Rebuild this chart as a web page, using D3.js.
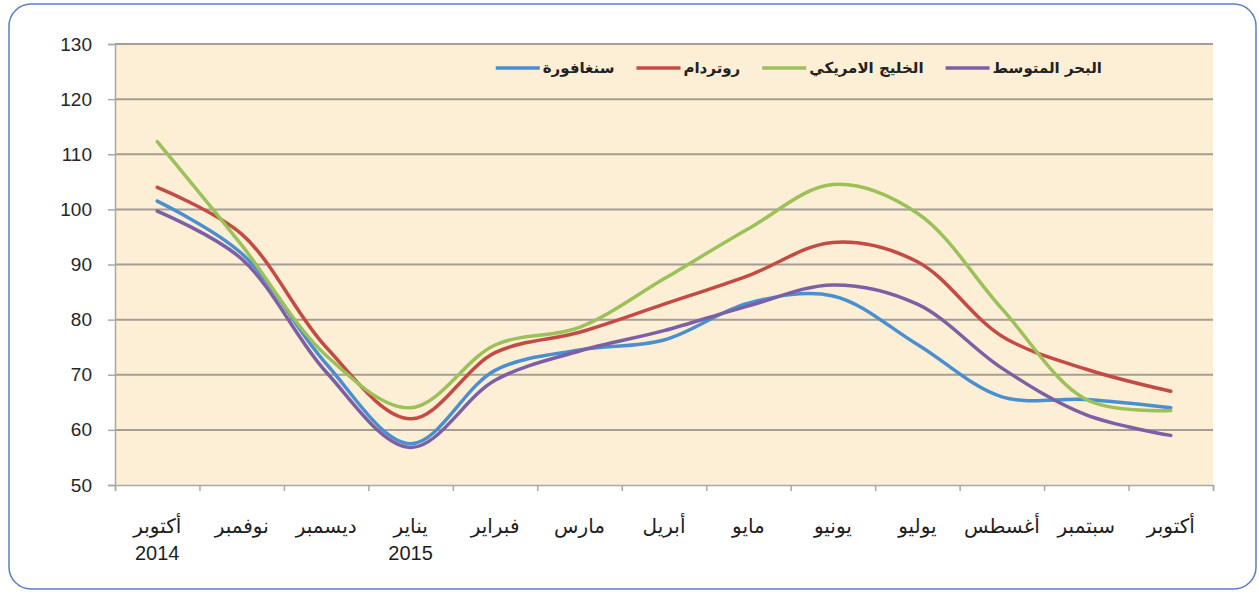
<!DOCTYPE html>
<html>
<head>
    <meta charset="utf-8">
    <title>أسعار الوقود</title>
    <style>
        body { margin: 0; background: #fff; }
    </style>
</head>
<body>

    <script src="https://cdn.jsdelivr.net/npm/d3@7"></script>
    <script type="text/javascript">

    // months along the bottom, year under the first and fourth
    var months = ["أكتوبر", "نوفمبر", "ديسمبر", "يناير", "فبراير", "مارس", "أبريل",
                  "مايو", "يونيو", "يوليو", "أغسطس", "سبتمبر", "أكتوبر"];
    var years  = ["2014", "", "", "2015", "", "", "", "", "", "", "", "", ""];

    // values
    var singapore = [101.5, 92, 72, 57.5, 70.8, 74.5, 76.3, 83, 84.3, 75.5, 66, 65.5, 64];
    var rotterdam = [104, 95.5, 75, 62, 74, 77.7, 82.8, 88, 94, 90.5, 77, 71, 67];
    var usGulf    = [112.3, 93.5, 73.5, 64, 75.4, 78.6, 87.4, 96.5, 104.5, 99.3, 82, 65.5, 63.5];
    var medSea    = [99.7, 91, 70.5, 56.8, 69, 74.3, 78, 82.5, 86.3, 82.8, 71.2, 62.7, 59];

    var seriesNames  = ["سنغافورة", "روتردام", "الخليج الامريكي", "البحر المتوسط"];
    var seriesColors = ["#4a90d0", "#c64a44", "#9bc158", "#7d5fa6"];
    var yTicks = [50, 60, 70, 80, 90, 100, 110, 120, 130];

    var W = 1259, H = 592;
    var margin = {top: 44, right: 46, bottom: 107, left: 115},
        width  = W - margin.left - margin.right,
        height = H - margin.top - margin.bottom;

    var arabicFont = "'DejaVu Sans', sans-serif";
    var latinFont = "'Liberation Sans', Arial, sans-serif";

    var svg = d3.select("body")
        .append("svg")
        .attr("width", W)
        .attr("height", H);

    // rounded frame
    svg.append("rect")
        .attr("x", 9).attr("y", 4)
        .attr("width", 1247).attr("height", 585)
        .attr("rx", 22).attr("ry", 22)
        .style("fill", "#fff")
        .style("stroke", "#5a7fc6")
        .style("stroke-width", "1.5px");

    var chart = svg.append("g")
        .attr("transform", "translate(" + margin.left + "," + margin.top + ")");

    var x = d3.scaleBand().domain(d3.range(months.length)).range([0, width]);
    var xEdge = d3.scaleLinear().domain([0, months.length]).range([0, width]);
    var y = d3.scaleLinear().domain([50, 130]).range([height, 0]);

    // plot background
    chart.append("rect")
        .attr("width", width)
        .attr("height", height)
        .style("fill", "#fcefd6");

    // horizontal grid
    chart.append("g")
        .selectAll("line")
        .data(yTicks.slice(1))
        .enter().append("line")
        .attr("x1", 0).attr("x2", width)
        .attr("y1", function(d) { return y(d); })
        .attr("y2", function(d) { return y(d); })
        .style("stroke", "#a59e94")
        .style("stroke-width", "2px");

    // y axis
    var yAxis = chart.append("g")
        .call(d3.axisLeft(y).tickValues(yTicks).tickSize(7).tickPadding(16));
    yAxis.select(".domain").style("stroke", "#a8a8a8").style("stroke-width", "1.5px");
    yAxis.selectAll(".tick line").style("stroke", "#a8a8a8").style("stroke-width", "1.5px");
    yAxis.selectAll("text")
        .style("font-family", latinFont)
        .style("font-size", "19px")
        .style("fill", "#262626");

    // x axis, ticks between categories
    var xAxis = chart.append("g")
        .attr("transform", "translate(0," + height + ")")
        .call(d3.axisBottom(xEdge).tickValues(d3.range(months.length + 1)).tickSize(6).tickFormat(""));
    xAxis.select(".domain").style("stroke", "#a8a8a8").style("stroke-width", "1.5px");
    xAxis.selectAll(".tick line").style("stroke", "#a8a8a8").style("stroke-width", "1.5px");

    chart.append("g")
        .selectAll("text")
        .data(months)
        .enter().append("text")
        .attr("x", function(d, i) { return x(i) + x.bandwidth() / 2; })
        .attr("y", height + 48)
        .attr("text-anchor", "middle")
        .text(function(d) { return d; })
        .style("font-family", arabicFont)
        .style("font-size", "20px")
        .style("fill", "#1e1e1e");

    chart.append("g")
        .selectAll("text")
        .data(years)
        .enter().append("text")
        .attr("x", function(d, i) { return x(i) + x.bandwidth() / 2; })
        .attr("y", height + 75)
        .attr("text-anchor", "middle")
        .text(function(d) { return d; })
        .style("font-family", latinFont)
        .style("font-size", "20px")
        .style("fill", "#1e1e1e");

    // lines
    var line = d3.line()
        .x(function(d, i) { return x(i) + x.bandwidth() / 2; })
        .y(function(d) { return y(d); })
        .curve(d3.curveCatmullRom.alpha(0.5));

    var allSeries = [singapore, rotterdam, usGulf, medSea];

    chart.selectAll(".series")
        .data(allSeries)
        .enter().append("path")
        .attr("class", "series")
        .attr("d", line)
        .style("fill", "none")
        .style("stroke", function(d, i) { return seriesColors[i]; })
        .style("stroke-width", "3.5px")
        .style("stroke-linecap", "round");

    // legend, laid out from the right
    var legend = svg.append("g");
    var rightEdge = 1102, keyLen = 44, legendY = 68;
    for (var i = seriesNames.length - 1; i >= 0; i--) {
        var t = legend.append("text")
            .attr("x", rightEdge)
            .attr("y", legendY + 5)
            .attr("text-anchor", "end")
            .text(seriesNames[i])
            .style("font-family", arabicFont)
            .style("font-size", "15px")
            .style("font-weight", "bold")
            .style("fill", "#222");
        var tw = t.node().getComputedTextLength();
        var lineEnd = rightEdge - tw - 3;
        legend.append("line")
            .attr("x1", lineEnd - keyLen).attr("x2", lineEnd)
            .attr("y1", legendY).attr("y2", legendY)
            .style("stroke", seriesColors[i])
            .style("stroke-width", "3.5px");
        rightEdge = lineEnd - keyLen - 22;
    }

    </script>
</body>
</html>
